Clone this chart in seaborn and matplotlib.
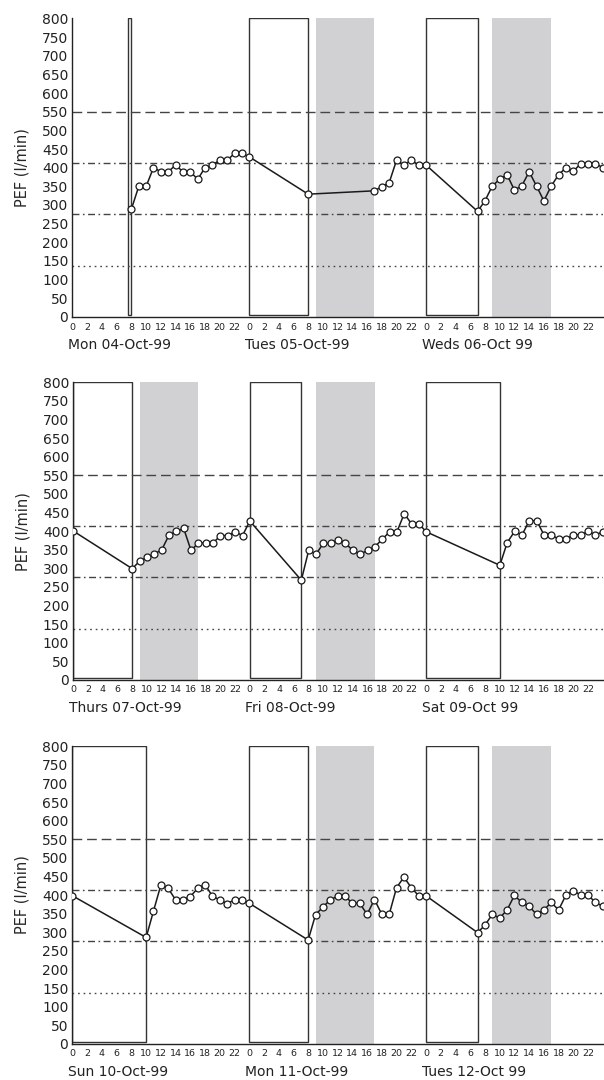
import matplotlib
matplotlib.use('Agg')
import matplotlib.pyplot as plt
import matplotlib.transforms as mtransforms
from matplotlib.patches import Rectangle
import seaborn as sns
import pandas as pd

sns.set_style('white')
plt.rcParams['font.family'] = ['DejaVu Sans']

# hours counted from 0 at midnight of the first day in each panel
hours_1 = list(range(8, 25)) + [32] + list(range(41, 49)) + list(range(55, 73))
pef_1 = [289, 350, 350, 400, 389, 389, 407, 389, 389, 369, 400, 407, 420, 420, 438, 438, 429,
         329,
         338, 349, 360, 420, 407, 420, 407, 407,
         283, 311, 351, 369, 381, 340, 351, 389, 351, 311, 351, 381, 400, 390, 411, 411, 411, 400]

hours_2 = [0] + list(range(8, 25)) + list(range(31, 49)) + list(range(58, 73))
pef_2 = [400,
         299, 319, 329, 339, 349, 389, 399, 407, 348, 368, 368, 368, 388, 388, 398, 388, 427,
         268, 348, 338, 367, 367, 377, 367, 348, 338, 348, 358, 378, 398, 398, 447, 419, 419, 398,
         308, 369, 399, 389, 428, 428, 390, 390, 378, 378, 390, 390, 399, 390, 398]

hours_3 = [0] + list(range(10, 25)) + list(range(32, 49)) + list(range(55, 73))
pef_3 = [398,
         286, 357, 427, 418, 387, 387, 396, 418, 428, 397, 387, 377, 387, 387, 378,
         279, 347, 368, 387, 397, 397, 378, 378, 348, 388, 348, 348, 420, 448, 420, 398, 398,
         299, 319, 348, 338, 360, 399, 380, 370, 348, 360, 380, 360, 400, 412, 400, 400, 380, 370]

# sleep periods (white boxes) and working hours (grey bands)
sleep_1 = [(7.5, 7.95), (24, 32), (48, 55)]
sleep_2 = [(0, 8), (24, 31), (48, 58)]
sleep_3 = [(0, 10), (24, 32), (48, 55)]
work_1 = [(33, 41), (57, 65)]
work_2 = [(9, 17), (33, 41)]
work_3 = [(33, 41), (57, 65)]

days_1 = ['Mon 04-Oct-99', 'Tues 05-Oct-99', 'Weds 06-Oct 99']
days_2 = ['Thurs 07-Oct-99', 'Fri 08-Oct-99', 'Sat 09-Oct 99']
days_3 = ['Sun 10-Oct-99', 'Mon 11-Oct-99', 'Tues 12-Oct 99']

ref_levels = [550, 413, 276, 137]
ref_styles = [(0, (7, 3.5)), (0, (5, 2.5, 1.2, 2.5)), (0, (5, 2.5, 1.2, 2.5)), (0, (1.2, 2.8))]

panels = [(hours_1, pef_1, sleep_1, work_1, days_1),
          (hours_2, pef_2, sleep_2, work_2, days_2),
          (hours_3, pef_3, sleep_3, work_3, days_3)]

fig = plt.figure(figsize=(6.04, 10.8), dpi=100)
boxes = [[0.12, 0.7065, 0.878, 0.2765],
         [0.1215, 0.3705, 0.8765, 0.2755],
         [0.12, 0.0335, 0.878, 0.2755]]

for box, (hrs, pef, sleep, work, days) in zip(boxes, panels):
    ax = fig.add_axes(box)
    for a, b in work:
        ax.axvspan(a, b, ymin=0, ymax=1, color='#d1d1d3', lw=0, zorder=0)
    for a, b in sleep:
        ax.add_patch(Rectangle((a, 4), b - a, 796, facecolor='white',
                               edgecolor='#333333', lw=1.0, zorder=1))
    for lev, ls in zip(ref_levels, ref_styles):
        ax.axhline(lev, color='#444444', lw=1.0, linestyle=ls, zorder=2)
    df = pd.DataFrame({'hour': hrs, 'pef': pef})
    sns.lineplot(data=df, x='hour', y='pef', ax=ax, color='#1a1a1a', lw=1.1,
                 marker='o', markersize=5, markerfacecolor='white',
                 markeredgecolor='#1a1a1a', markeredgewidth=0.9, zorder=3)
    ax.set_xlim(0, 72)
    ax.set_ylim(0, 800)
    ax.set_yticks(range(0, 801, 50))
    ax.set_yticklabels([str(v) for v in range(0, 801, 50)], fontsize=10)
    xt = list(range(0, 72, 2))
    ax.set_xticks(xt)
    ax.set_xticklabels([str(h % 24) for h in xt], fontsize=6.8)
    ax.tick_params(axis='both', direction='in', length=4, width=0.9, pad=3, colors='#222222')
    ax.tick_params(axis='x', pad=4)
    for s in ['top', 'right']:
        ax.spines[s].set_visible(False)
    for s in ['left', 'bottom']:
        ax.spines[s].set_color('#222222')
        ax.spines[s].set_linewidth(1.0)
    ax.set_xlabel('')
    ax.set_ylabel('PEF (l/min)', fontsize=10.5, labelpad=9)
    trans = mtransforms.blended_transform_factory(ax.transData, ax.transAxes)
    for i, d in enumerate(days):
        ax.text(i * 24 - 0.6, -0.095, d, transform=trans, ha='left', va='center',
                fontsize=10, color='#222222')

fig.savefig('out.png', dpi=100)
